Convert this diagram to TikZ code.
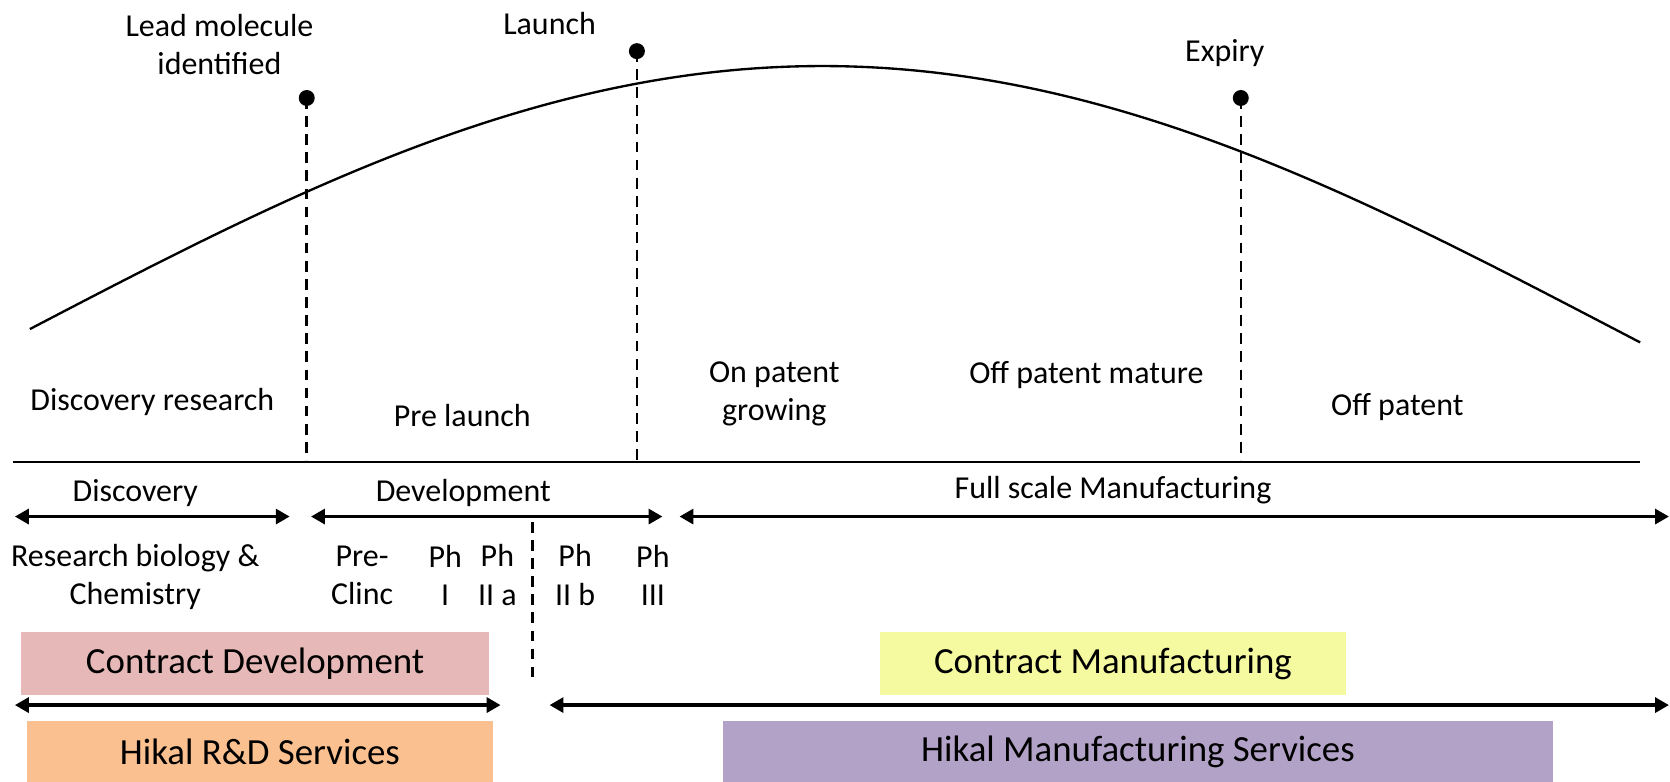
\documentclass[tikz,border=0pt]{standalone}
\usepackage{fontspec}
\setmainfont{Carlito}
\usetikzlibrary{arrows.meta}
\definecolor{cdev}{RGB}{230,184,183}
\definecolor{hrd}{RGB}{250,192,144}
\definecolor{cman}{RGB}{245,250,160}
\definecolor{hman}{RGB}{179,162,199}
\begin{document}
\begin{tikzpicture}[x=0.5pt,y=-0.5pt,
  lbl/.style={font=\fontsize{15}{18}\selectfont, align=center, inner sep=0pt},
  boxlbl/.style={font=\fontsize{17.3}{20}\selectfont, inner sep=0pt},
  milestone/.style={line width=1.2pt, dash pattern=on 5pt off 3.5pt},
  span/.style={line width=1.5pt, {Triangle[length=6.5pt,width=7pt]}-{Triangle[length=6.5pt,width=7pt]}},
  dotm/.style={circle, fill=black, inner sep=0pt, minimum size=7.5pt}]
\useasboundingbox (0,0) rectangle (1568,734.2);

% life-cycle curve
\draw[line width=1.1pt] plot[domain=28:1540, samples=150, smooth] (\x, {309 - 247*cos(90*((\x-772)/744))});

% baseline
\coordinate (bl) at (12,434);
\coordinate (br) at (1540,434);
\draw[line width=1.1pt] (bl) -- (br);

% milestones
\node[dotm] (mlead) at (288,92) {};
\node[dotm] (mlaunch) at (598,48) {};
\node[dotm] (mexp) at (1165,92) {};
\coordinate (blead) at (288,432);
\coordinate (blaunch) at (598,432);
\coordinate (bexp) at (1165,432);
\draw[milestone] (mlead.center) -- (blead);
\draw[milestone] (mlaunch.center) -- (blaunch);
\draw[milestone] (mexp.center) -- (bexp);

\node[lbl] (tlead) at (206,42) {Lead molecule\\identified};
\node[lbl] (tlaunch) at (516,22) {Launch};
\node[lbl] (texp) at (1150,50) {Expiry};

% stage labels
\node[lbl] (sdisc) at (143,377) {Discovery research};
\node[lbl] (spre) at (434,390) {Pre launch};
\node[lbl] (son) at (727,370) {On patent\\growing};
\node[lbl] (smat) at (1020,352) {Off patent mature};
\node[lbl] (soff) at (1312,382) {Off patent};

% activity spans
\node[lbl] (hdisc) at (127,463) {Discovery};
\node[lbl] (hdev) at (435,463) {Development};
\node[lbl] (hfull) at (1045,460) {Full scale Manufacturing};
\coordinate (d1) at (14,485);
\coordinate (d2) at (272,485);
\coordinate (v1) at (292,485);
\coordinate (v2) at (622,485);
\coordinate (f1) at (638,485);
\coordinate (f2) at (1567,485);
\draw[span] (d1) -- (d2);
\draw[span] (v1) -- (v2);
\draw[span] (f1) -- (f2);

\node[lbl] (rb) at (127,542) {Research biology \&\\Chemistry};
\node[lbl] (pc) at (340,540) {Pre-\\Clinc};
\node[lbl] (p1) at (418,540) {Ph\\I};
\node[lbl] (p2a) at (467,540) {Ph\\II a};
\node[lbl] (p2b) at (540,540) {Ph\\II b};
\node[lbl] (p3) at (613,540) {Ph\\III};

\coordinate (sp1) at (500,490);
\coordinate (sp2) at (500,636);
\draw[milestone] (sp1) -- (sp2);

% service boxes
\node[boxlbl, fill=cdev, minimum width=219.5pt, minimum height=30pt] (cd) at (239.5,623) {Contract Development};
\node[boxlbl, fill=hrd, minimum width=219pt, minimum height=29pt] (hrdbox) at (244,706) {Hikal R\&D Services};
\node[boxlbl, fill=cman, minimum width=219pt, minimum height=30pt] (cm) at (1045,623) {Contract Manufacturing};
\node[boxlbl, fill=hman, minimum width=389.5pt, minimum height=29pt] (hm) at (1068.5,706) {Hikal Manufacturing Services};

\coordinate (l1) at (14,662);
\coordinate (l2) at (470,662);
\coordinate (r1) at (516,662);
\coordinate (r2) at (1567,662);
\draw[span] (l1) -- (l2);
\draw[span] (r1) -- (r2);
\end{tikzpicture}
\end{document}
